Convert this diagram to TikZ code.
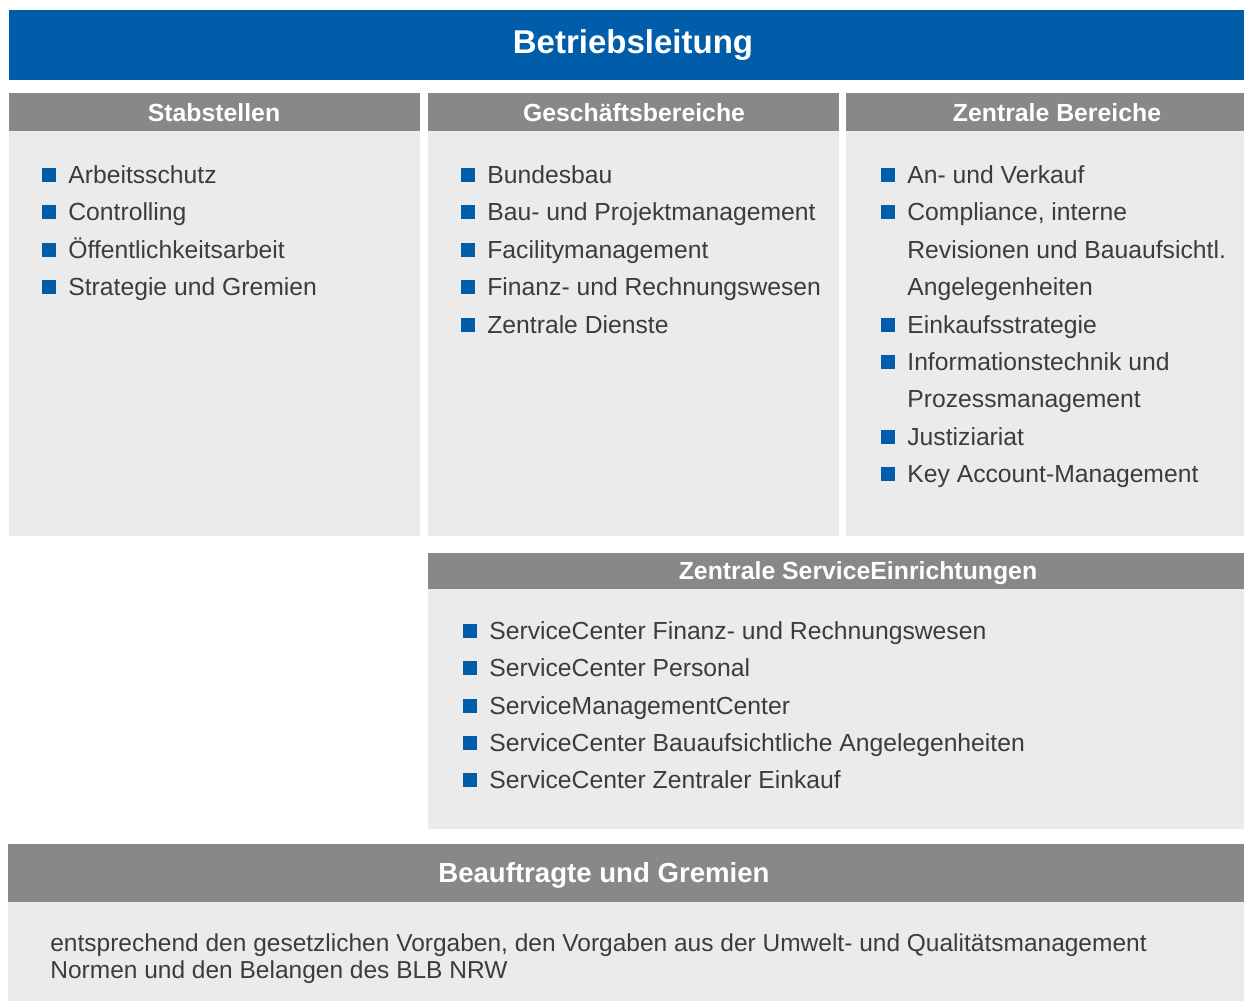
\documentclass[tikz,border=0pt]{standalone}
\usepackage{fontspec}
\setmainfont{Liberation Sans}
\definecolor{blbblue}{RGB}{0,93,169}
\definecolor{headgray}{RGB}{136,136,136}
\definecolor{bodygray}{RGB}{235,235,235}
\definecolor{txtgray}{RGB}{60,60,60}
\tikzset{every picture/.style={line width=0.75pt}}

\begin{document}
\begin{tikzpicture}[x=1pt,y=1pt,yscale=-1,xscale=1,
  htitle/.style={anchor=base,inner sep=0pt,text=white,font=\bfseries\fontsize{24.8}{28}\selectfont},
  bsq/.style={fill=blbblue,minimum size=14pt,inner sep=0pt,xshift=-12pt},
  itmc/.style={anchor=west,inner sep=0pt,text height=16pt,text depth=0pt,text=txtgray,font=\fontsize{24.7}{37.5}\selectfont},
  itm/.style={itmc,label={[bsq]left:{}}}]
\useasboundingbox (0,0) rectangle (1244,1001);

%Shape: Rectangle [Betriebsleitung]
\fill [blbblue] (9,10) rectangle (1244,80) ;
%Shape: Rectangle [Stabstellen]
\fill [headgray] (9,93) rectangle (420,131) ;
\fill [bodygray] (9,131) rectangle (420,536) ;
%Shape: Rectangle [Geschaeftsbereiche]
\fill [headgray] (428,93) rectangle (839,131) ;
\fill [bodygray] (428,131) rectangle (839,536) ;
%Shape: Rectangle [Zentrale Bereiche]
\fill [headgray] (846,93) rectangle (1244,131) ;
\fill [bodygray] (846,131) rectangle (1244,536) ;
%Shape: Rectangle [Zentrale ServiceEinrichtungen]
\fill [headgray] (428,553) rectangle (1244,589) ;
\fill [bodygray] (428,589) rectangle (1244,829) ;
%Shape: Rectangle [Beauftragte und Gremien]
\fill [headgray] (8,844) rectangle (1244,902) ;
\fill [bodygray] (8,902) rectangle (1244,1001) ;

% Text Node
\node [htitle,font=\bfseries\fontsize{33}{36}\selectfont] (bl) at (633,53) {Betriebsleitung};
% Text Node
\node [htitle] (sbt) at (214,121) {Stabstellen};
% Text Node
\node [htitle] (gbt) at (634,121) {Geschäftsbereiche};
% Text Node
\node [htitle] (zbt) at (1057,121) {Zentrale Bereiche};
% Text Node
\node [htitle] (zset) at (858,579) {Zentrale ServiceEinrichtungen};
% Text Node
\node [htitle,font=\bfseries\fontsize{27.6}{30}\selectfont] (bgt) at (604,882) {Beauftragte und Gremien};

% Stabstellen
\node [itm] (sb1) at (68,175) {Arbeitsschutz};
\node [itm] (sb2) at (68,212) {Controlling};
\node [itm] (sb3) at (68,250) {Öffentlichkeitsarbeit};
\node [itm] (sb4) at (68,287) {Strategie und Gremien};

% Geschaeftsbereiche
\node [itm] (gb1) at (487,175) {Bundesbau};
\node [itm] (gb2) at (487,212) {Bau- und Projektmanagement};
\node [itm] (gb3) at (487,250) {Facilitymanagement};
\node [itm] (gb4) at (487,287) {Finanz- und Rechnungswesen};
\node [itm] (gb5) at (487,325) {Zentrale Dienste};

% Zentrale Bereiche
\node [itm] (zb1) at (907,175) {An- und Verkauf};
\node [itm] (zb2) at (907,212) {Compliance, interne};
\node [itmc] (zb2b) at (907,250) {Revisionen und Bauaufsichtl.};
\node [itmc] (zb2c) at (907,287) {Angelegenheiten};
\node [itm] (zb3) at (907,325) {Einkaufsstrategie};
\node [itm] (zb4) at (907,362) {Informationstechnik und};
\node [itmc] (zb4b) at (907,399) {Prozessmanagement};
\node [itm] (zb5) at (907,437) {Justiziariat};
\node [itm] (zb6) at (907,474) {Key Account-Management};

% Zentrale ServiceEinrichtungen
\node [itm] (zse1) at (489,631) {ServiceCenter Finanz- und Rechnungswesen};
\node [itm] (zse2) at (489,668) {ServiceCenter Personal};
\node [itm] (zse3) at (489,706) {ServiceManagementCenter};
\node [itm] (zse4) at (489,743) {ServiceCenter Bauaufsichtliche Angelegenheiten};
\node [itm] (zse5) at (489,780) {ServiceCenter Zentraler Einkauf};

% Beauftragte und Gremien
\node [anchor=north west,inner sep=0pt,align=left,text=txtgray,font=\fontsize{24.5}{27}\selectfont] (bgtxt) at (50,933) {entsprechend den gesetzlichen Vorgaben, den Vorgaben aus der Umwelt- und Qualitätsmanagement\\Normen und den Belangen des BLB NRW};

\end{tikzpicture}
\end{document}
